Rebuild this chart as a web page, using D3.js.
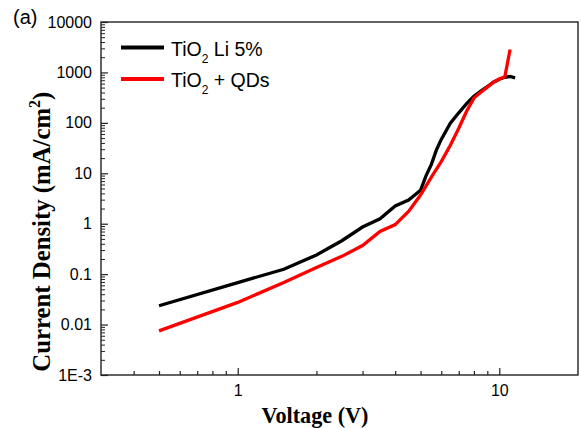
<!DOCTYPE html>
<html><head><meta charset="utf-8">
<script src="https://cdn.jsdelivr.net/npm/d3@7"></script>
<style>body{margin:0;background:#fff}</style>
</head><body>
<svg id="c" width="581" height="428"></svg>
<script>
// ---- data ----
const voltageLi = [0.5,1,1.5,2,2.5,3,3.5,4,4.5,5,5.25,5.5,5.75,6,6.5,7,7.5,8,8.5,9,9.5,10,10.5,11,11.5];
const currentLi = [0.0236,0.068,0.125,0.24,0.46,0.86,1.25,2.25,2.95,4.6,9,15,29,47,98,158,240,338,425,525,640,730,800,830,780];
const voltageQD = [0.5,1,1.5,2,2.5,3,3.5,4,4.5,5,5.5,6,6.5,7,7.5,8,8.5,9,9.5,10,10.5,11];
const currentQD = [0.0075,0.0275,0.068,0.135,0.225,0.37,0.7,0.96,1.75,3.7,8.4,17,36,78,170,310,405,510,640,740,815,2850];
const yTickValues = [1e-3,0.01,0.1,1,10,100,1000,10000];
const yTickLabels = ["1E-3","0.01","0.1","1","10","100","1000","10000"];
const xTickValues = [1,10];
const xTickLabels = ["1","10"];
const xMinorTicks = [0.4,0.5,0.6,0.7,0.8,0.9,2,3,4,5,6,7,8,9];
const legendPrefix = ["TiO","TiO"];
const legendSub = ["2","2"];
const legendSuffix = [" Li 5%"," + QDs"];
const seriesColors = ["#000000","#ff0000"];

// ---- chart ----
const svg = d3.select("#c");
const L = 101, R = 578, T = 22, B = 375;
const x = d3.scaleLog().domain([0.3, 20]).range([L, R]);
const y = d3.scaleLog().domain([1e-3, 1e4]).range([B, T]);

const yMinor = [];
for (let e = -3; e < 4; e++) for (let k = 2; k <= 9; k++) yMinor.push(k * Math.pow(10, e));

const font = "'Liberation Sans', Arial, sans-serif";

// x axis major
const gx = svg.append("g").attr("transform", `translate(0,${B})`)
  .call(d3.axisBottom(x).tickValues(xTickValues).tickFormat((d,i)=>xTickLabels[i]).tickSizeInner(-7).tickSizeOuter(0).tickPadding(10));
gx.select(".domain").remove();
gx.selectAll("text").attr("font-family", font).attr("font-size", 16).attr("fill", "#000");
gx.selectAll("line").attr("stroke", "#222").attr("stroke-width", 1.2);
const gxm = svg.append("g").attr("transform", `translate(0,${B})`)
  .call(d3.axisBottom(x).tickValues(xMinorTicks).tickFormat("").tickSizeInner(-4).tickSizeOuter(0));
gxm.select(".domain").remove();
gxm.selectAll("line").attr("stroke", "#222").attr("stroke-width", 1.2);

// y axis major
const gy = svg.append("g").attr("transform", `translate(${L},0)`)
  .call(d3.axisLeft(y).tickValues(yTickValues).tickFormat((d,i)=>yTickLabels[i]).tickSizeInner(-7).tickSizeOuter(0).tickPadding(9));
gy.select(".domain").remove();
gy.selectAll("text").attr("font-family", font).attr("font-size", 16).attr("fill", "#000");
gy.selectAll("line").attr("stroke", "#222").attr("stroke-width", 1.2);
const gym = svg.append("g").attr("transform", `translate(${L},0)`)
  .call(d3.axisLeft(y).tickValues(yMinor).tickFormat("").tickSizeInner(-4).tickSizeOuter(0));
gym.select(".domain").remove();
gym.selectAll("line").attr("stroke", "#222").attr("stroke-width", 1);

// frame
svg.append("rect").attr("x", L).attr("y", T).attr("width", R - L).attr("height", B - T)
  .attr("fill", "none").attr("stroke", "#222").attr("stroke-width", 1.4);

// lines
const line = d3.line().x(d => x(d[0])).y(d => y(d[1]));
const series = [
  d3.zip(voltageLi, currentLi),
  d3.zip(voltageQD, currentQD)
];
series.forEach((s, i) => {
  svg.append("path").datum(s).attr("d", line).attr("fill", "none")
    .attr("stroke", seriesColors[i]).attr("stroke-width", 3.3);
});

// legend
const legY = [47.5, 79];
legY.forEach((ly, i) => {
  svg.append("line").attr("x1", 121).attr("x2", 164).attr("y1", ly).attr("y2", ly)
    .attr("stroke", seriesColors[i]).attr("stroke-width", 4);
  const t = svg.append("text").attr("x", 171).attr("y", ly + 8.2)
    .attr("font-family", font).attr("font-size", 19.5).attr("fill", "#000");
  t.append("tspan").text(legendPrefix[i]);
  t.append("tspan").attr("font-size", 12).attr("dy", 7).text(legendSub[i]);
  t.append("tspan").attr("dy", -7).text(legendSuffix[i]);
});

// titles
const serif = "'Liberation Serif', 'Times New Roman', serif";
svg.append("text").attr("x", 315).attr("y", 423).attr("text-anchor", "middle")
  .attr("font-family", serif).attr("font-weight", "bold").attr("font-size", 24)
  .attr("textLength", 107).attr("lengthAdjust", "spacingAndGlyphs")
  .text("Voltage (V)");
const yt = svg.append("text").attr("transform", "translate(50,231.7) rotate(-90)")
  .attr("text-anchor", "middle").attr("font-family", serif).attr("font-weight", "bold")
  .attr("font-size", 25).attr("textLength", 280).attr("lengthAdjust", "spacingAndGlyphs");
yt.append("tspan").text("Current Density (mA/cm");
yt.append("tspan").attr("font-size", 16).attr("dy", -10).text("2");
yt.append("tspan").attr("dy", 10).text(")");

svg.append("text").attr("x", 13).attr("y", 23.5).attr("font-family", font)
  .attr("font-size", 20).attr("fill", "#000").text("(a)");
</script>
</body></html>
